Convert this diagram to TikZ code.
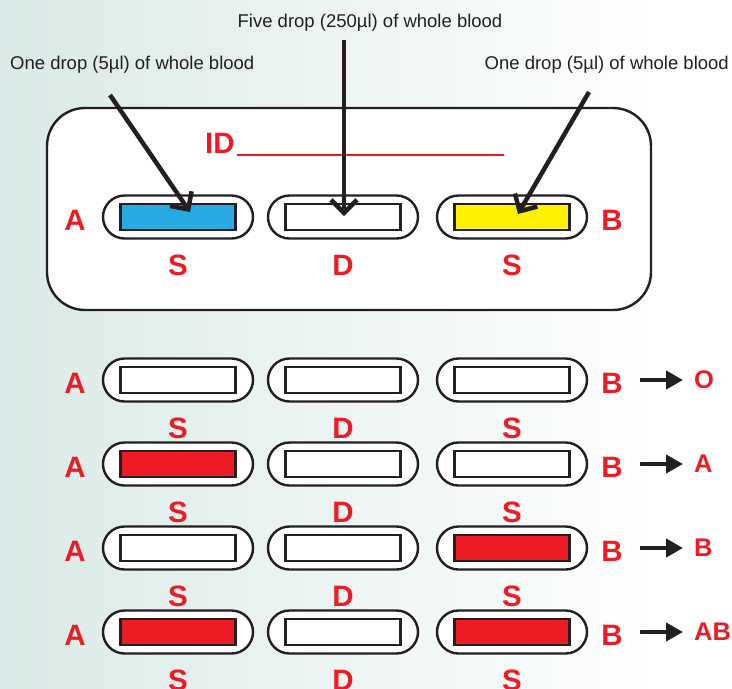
\documentclass[tikz,border=0pt]{standalone}
\usepackage{fontspec}
\setmainfont{Liberation Sans}
\usetikzlibrary{arrows.meta}

\definecolor{sred}{RGB}{237,28,36}
\definecolor{sblue}{RGB}{39,170,225}
\definecolor{syellow}{RGB}{255,242,0}
\definecolor{ink}{RGB}{35,31,32}
\definecolor{bgteal}{RGB}{218,234,231}

\tikzset{
  pill/.style={draw=ink,line width=2.4pt,fill=white,rounded corners=21.5pt,
    minimum width=150pt,minimum height=43pt,inner sep=0pt},
  well/.style={draw=ink,line width=2.4pt,fill=#1,minimum width=115pt,
    minimum height=26pt,inner sep=0pt},
  well/.default=white,
  lbl/.style={text=sred,font=\fontsize{29.5}{31}\selectfont\bfseries,inner sep=0pt},
  res/.style={text=sred,font=\fontsize{25.5}{27}\selectfont\bfseries,inner sep=0pt,anchor=west},
  capt/.style={text=ink,font=\fontsize{18.5}{20}\selectfont,inner sep=0pt},
  drop/.style={draw=ink,line width=4.5pt,-{Straight Barb[length=13pt,width=26pt]}},
  give/.style={draw=ink,line width=4.5pt,-{Triangle[length=17pt,width=18pt]}}
}

\begin{document}
\begin{tikzpicture}[x=1pt,y=1pt]
  \useasboundingbox (0,0) rectangle (732,-689);
  \shade[left color=bgteal,right color=white] (0,0) rectangle (660,-689);
  \fill[white] (660,0) rectangle (732,-689);

  % test card
  \draw[ink,line width=2.4pt,fill=white,rounded corners=38pt] (47,-108) rectangle (651,-310);
  \node[lbl,anchor=west] (id) at (205,-143) {ID};
  \draw[sred,line width=2pt] (237,-155) -- (504,-155);

  \node[pill] (pA) at (178,-217) {};
  \node[pill] (pD) at (343,-217) {};
  \node[pill] (pB) at (512,-217) {};
  \node[well=sblue] (wA) at (pA) {};
  \node[well] (wD) at (pD) {};
  \node[well=syellow] (wB) at (pB) {};
  \node[lbl] (lA) at (75,-220) {A};
  \node[lbl] (lB) at (612,-220) {B};
  \node[lbl] (sA) at (178,-265) {S};
  \node[lbl] (sD) at (343,-265) {D};
  \node[lbl] (sB) at (512,-265) {S};

  % where the blood goes
  \node[capt,anchor=base west] (cA) at (10,-69) {One drop (5µl) of whole blood};
  \node[capt,anchor=base] (cD) at (370,-27) {Five drop (250µl) of whole blood};
  \node[capt,anchor=base east] (cB) at (729,-69) {One drop (5µl) of whole blood};
  \coordinate (tA) at (110,-95);
  \coordinate (tD) at (344,-40);
  \coordinate (tB) at (589,-92);
  \draw[drop] (tA) -- ([shift={(12,5)}]wA.center);
  \draw[drop] (tD) -- ([shift={(1,1)}]wD.center);
  \draw[drop] (tB) -- ([shift={(6,3)}]wB.center);

  % results
  \foreach \y/\fa/\fb/\grp [count=\i] in
    {380/white/white/O, 464/sred/white/A, 548/white/sred/B, 632/sred/sred/AB}{
    \node[pill] (p\i-a) at (178,-\y) {};
    \node[pill] (p\i-d) at (343,-\y) {};
    \node[pill] (p\i-b) at (512,-\y) {};
    \node[well=\fa] (w\i-a) at (p\i-a) {};
    \node[well] (w\i-d) at (p\i-d) {};
    \node[well=\fb] (w\i-b) at (p\i-b) {};
    \node[lbl] (l\i-a) at (75,-\y-3) {A};
    \node[lbl] (l\i-b) at (612,-\y-3) {B};
    \node[lbl] (s\i-a) at (178,-\y-48) {S};
    \node[lbl] (s\i-d) at (343,-\y-48) {D};
    \node[lbl] (s\i-b) at (512,-\y-48) {S};
    \node[res] (g\i) at (694,-\y) {\grp};
    \coordinate (e\i) at (640,-\y);
    \draw[give] (e\i) -- ([xshift=-11pt]g\i.west);
  }
\end{tikzpicture}
\end{document}
